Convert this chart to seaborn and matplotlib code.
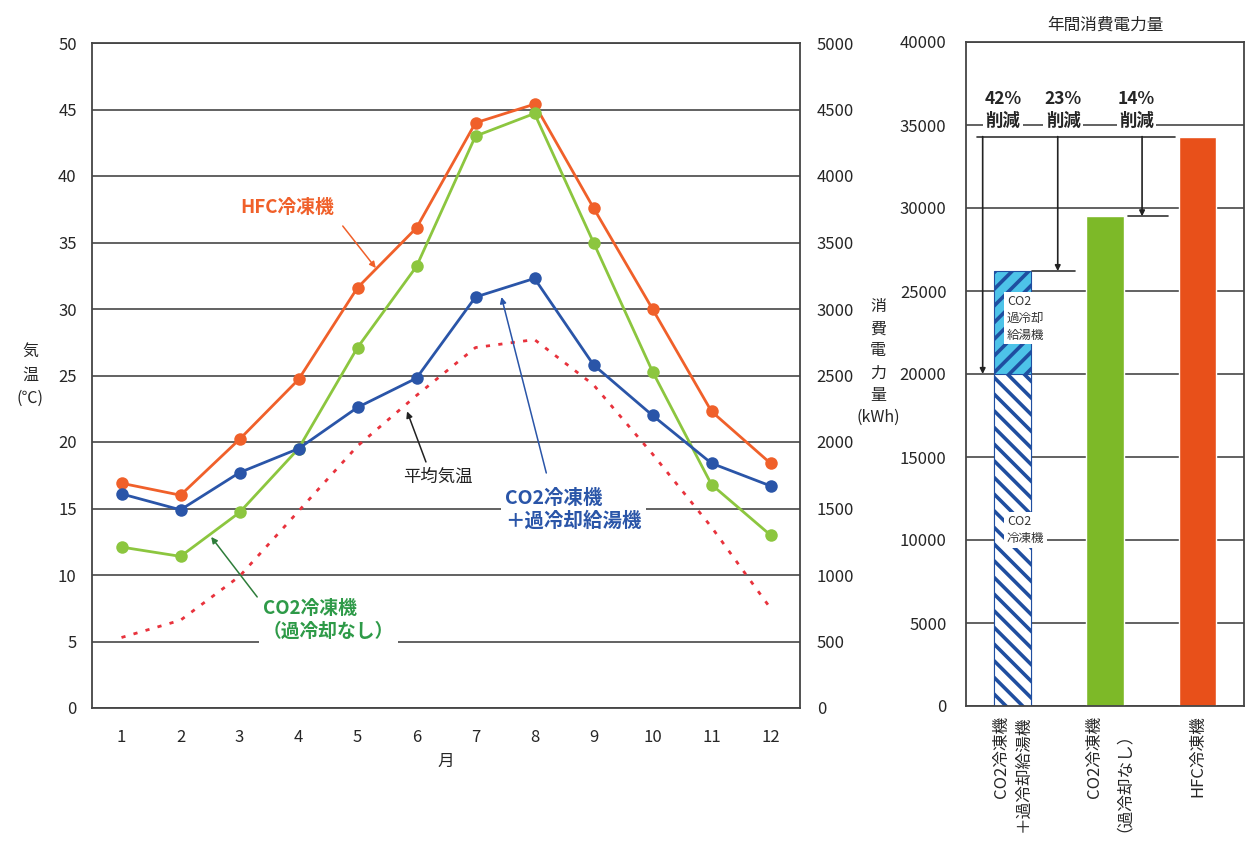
# 冷凍機の月別消費電力量と年間消費電力量の比較

import numpy as np
import pandas as pd
import matplotlib
matplotlib.use('Agg')
import matplotlib.pyplot as plt
import seaborn as sb

sb.set_theme(style='white')
plt.rcParams['font.family'] = ['Noto Sans CJK JP', 'DejaVu Sans']
plt.rcParams['hatch.linewidth'] = 2.6

# --- data ---
months = [1, 2, 3, 4, 5, 6, 7, 8, 9, 10, 11, 12]
hfc_kwh = [1690, 1600, 2020, 2470, 3160, 3610, 4400, 4540, 3760, 3000, 2230, 1840]
co2_kwh = [1210, 1140, 1470, 1950, 2710, 3320, 4300, 4470, 3500, 2530, 1680, 1300]
co2sub_kwh = [1610, 1490, 1770, 1950, 2260, 2480, 3090, 3230, 2580, 2200, 1840, 1670]
avg_temp = [5.3, 6.6, 9.9, 14.8, 19.7, 23.5, 27.1, 27.7, 24.3, 19.1, 13.6, 7.5]

bar_cats = ['CO2冷凍機\n＋過冷却給湯機', 'CO2冷凍機\n（過冷却なし）', 'HFC冷凍機']
bar_totals = [26200, 29500, 34300]
co2_base = 20000          # CO2冷凍機 part of the first bar
pct_labels = ['42%\n削減', '23%\n削減', '14%\n削減']

c_hfc = '#f0602a'
c_co2 = '#8cc63f'
c_sub = '#2a55a8'
c_avg = '#e8323c'
grid_c = '#555555'
tick_fs = 12

fig = plt.figure(figsize=(12.47, 8.52), dpi=100)
ax = fig.add_axes([92/1247, 1-708/852, (800-92)/1247, (708-43)/852])
axb = fig.add_axes([966/1247, 1-706/852, (1244-966)/1247, (706-42)/852])

# ---------- left: monthly chart ----------
ax.set_xlim(0.5, 12.5)
ax.set_ylim(0, 50)
ax.set_yticks(np.arange(0, 51, 5))
ax.yaxis.grid(True, color=grid_c, lw=1.3)
ax.set_xticks(months)
ax.set_xticks(np.arange(1.5, 12, 1), minor=True)
ax.tick_params(axis='x', which='major', length=0, pad=15, labelsize=tick_fs)
ax.tick_params(axis='x', which='minor', direction='in', length=5, width=1.2, color='#444')
ax.tick_params(axis='y', length=0, pad=11, labelsize=tick_fs)
for s in ax.spines.values():
    s.set_color('#444')
    s.set_linewidth(1.3)

sb.lineplot(x=months, y=avg_temp, color=c_avg, lw=2, ax=ax)
ax.lines[-1].set_linestyle((0, (1.5, 3)))

ax2 = ax.twinx()
ax2.set_ylim(0, 5000)
ax2.set_yticks(np.arange(0, 5001, 500))
ax2.tick_params(axis='y', length=0, pad=12, labelsize=tick_fs)
for s in ax2.spines.values():
    s.set_visible(False)

for vals, col in [(hfc_kwh, c_hfc), (co2_kwh, c_co2), (co2sub_kwh, c_sub)]:
    sb.lineplot(x=months, y=vals, color=col, lw=2, marker='o', markersize=9,
                markeredgewidth=0, ax=ax2)

ax.set_xlabel('月', fontsize=12, labelpad=5)
ax.set_ylabel('')
ax2.set_ylabel('')

arr = dict(arrowstyle='-|>', lw=1.1, mutation_scale=9, shrinkA=0, shrinkB=0)
ax2.text(3.81, 3760, 'HFC冷凍機', color=c_hfc, fontsize=13.5, fontweight='bold',
         ha='center', va='center')
ax2.annotate('', xy=(5.31, 3308), xytext=(4.75, 3624), arrowprops=dict(arr, color=c_hfc))

ax.text(6.36, 17.4, '平均気温', color='#222', fontsize=12.5, ha='center', va='center')
ax.annotate('', xy=(5.84, 22.3), xytext=(6.16, 18.5), arrowprops=dict(arr, color='#222'))

ax2.text(7.50, 1489, 'CO2冷凍機\n＋過冷却給湯機', color=c_sub, fontsize=14,
         fontweight='bold', ha='left', va='center', linespacing=1.2,
         bbox=dict(facecolor='white', edgecolor='none', pad=3))
ax2.annotate('', xy=(7.44, 3090), xytext=(8.2, 1767), arrowprops=dict(arr, color=c_sub))

ax2.text(3.40, 662, 'CO2冷凍機\n（過冷却なし）', color='#2e9a48', fontsize=13.5,
         fontweight='bold', ha='left', va='center', linespacing=1.2,
         bbox=dict(facecolor='white', edgecolor='none', pad=3))
ax2.annotate('', xy=(2.52, 1286), xytext=(3.30, 835), arrowprops=dict(arr, color='#2e7d3a'))

fig.text(30/1247, 1-375/852, '気\n温\n(℃)', ha='center', va='center', fontsize=11.5,
         linespacing=1.5)
fig.text(878/1247, 1-362/852, '消\n費\n電\n力\n量\n(kWh)', ha='center', va='center',
         fontsize=11.5, linespacing=1.4)

# ---------- right: annual bars ----------
sb.barplot(x=bar_cats, y=bar_totals, hue=bar_cats,
           palette=['#4dc3e8', '#7db928', '#e8501a'], width=0.4, saturation=1,
           legend=False, ax=axb)
sb.barplot(x=bar_cats[:1], y=[co2_base], order=bar_cats, color='white', width=0.4,
           saturation=1, ax=axb)
p_top = axb.patches[0]
p_top.set_hatch('//')
p_top.set_edgecolor('#1f4ea0')
p_top.set_linewidth(0.8)
p_base = axb.patches[-1]
p_base.set_hatch('\\\\')
p_base.set_edgecolor('#1f4ea0')
p_base.set_linewidth(0.8)

axb.set_xlim(-0.5, 2.5)
axb.set_ylim(0, 40000)
axb.set_yticks(np.arange(0, 40001, 5000))
axb.set_axisbelow(True)
axb.yaxis.grid(True, color=grid_c, lw=1.3)
axb.set_xticks([0.5, 1.5], minor=True)
axb.tick_params(axis='x', which='major', length=0, pad=7, labelsize=tick_fs)
axb.tick_params(axis='x', which='minor', direction='in', length=5, width=1.2, color='#444')
axb.tick_params(axis='y', length=0, pad=14, labelsize=tick_fs)
plt.setp(axb.get_xticklabels(), rotation=90, ha='center', va='top',
         multialignment='right', linespacing=1.3)
for s in axb.spines.values():
    s.set_color('#444')
    s.set_linewidth(1.3)
axb.set_ylabel('')
axb.set_title('年間消費電力量', fontsize=12, pad=9)

# reduction arrows
top = bar_totals[2]
axb.plot([-0.38, 1.75], [top, top], color='#333', lw=1.2)
for xp, tgt in zip([-0.32, 0.49, 1.40], [co2_base, bar_totals[0], bar_totals[1]]):
    axb.annotate('', xy=(xp, tgt), xytext=(xp, top),
                 arrowprops=dict(arrowstyle='-|>', color='#222', lw=1.2,
                                 mutation_scale=8, shrinkA=0, shrinkB=0))
axb.plot([0.21, 0.68], [bar_totals[0], bar_totals[0]], color='#333', lw=1.2)
axb.plot([1.25, 1.68], [bar_totals[1], bar_totals[1]], color='#333', lw=1.2)
for xp, lab in zip([-0.10, 0.55, 1.34], pct_labels):
    axb.text(xp, 35900, lab, ha='center', va='center', fontsize=12.5, fontweight='bold',
             linespacing=1.3, bbox=dict(facecolor='white', edgecolor='none', pad=1))

axb.text(-0.06, 23370, 'CO2\n過冷却\n給湯機', ha='left', va='center', fontsize=9,
         color='#333', linespacing=1.4,
         bbox=dict(facecolor='white', edgecolor='none', pad=2))
axb.text(-0.06, 10600, 'CO2\n冷凍機', ha='left', va='center', fontsize=9,
         color='#333', linespacing=1.4,
         bbox=dict(facecolor='white', edgecolor='none', pad=2))

fig.savefig('out.png', dpi=100, facecolor='white')
